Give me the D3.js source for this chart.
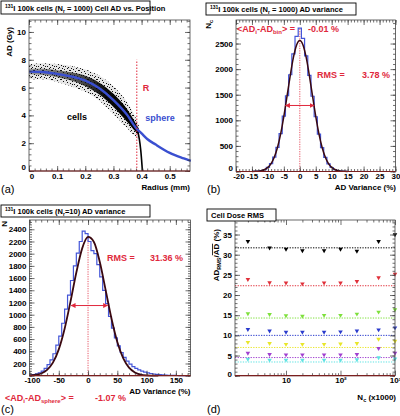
<!DOCTYPE html>
<html><head><meta charset="utf-8">
<script src="https://cdn.jsdelivr.net/npm/d3@7"></script>
<style>
body{margin:0;background:#fff}
svg{display:block}
text{font-family:"Liberation Sans",Arial,Helvetica,sans-serif}
</style>
</head><body>
<svg id="chart" width="400" height="416"></svg>
<script>
// ---------------- DATA ----------------
// (a) Cell AD vs position
const cellR        = [0, 0.05, 0.1, 0.15, 0.2, 0.25, 0.3, 0.35, 0.38, 0.39];
const cellOuterHi  = [7.7, 7.75, 7.7, 7.55, 7.3, 6.85, 6.1, 4.9, 3.8, 3.3];
const cellCoreHi   = [7.35, 7.35, 7.25, 7.1, 6.85, 6.35, 5.55, 4.4, 3.4, 3.05];
const cellCoreLo   = [6.95, 6.9, 6.75, 6.5, 6.1, 5.5, 4.6, 3.5, 2.8, 2.6];
const cellOuterLo  = [6.6, 6.6, 6.4, 6.1, 5.7, 5.05, 4.1, 3.05, 2.45, 2.3];
const cellEdgeR    = [0.385, 0.392, 0.397, 0.400, 0.402, 0.404];
const cellEdgeAD   = [3.0, 2.3, 1.5, 0.8, 0.3, 0];
const sphereR      = [0, 0.05, 0.1, 0.15, 0.2, 0.25, 0.3, 0.35, 0.38, 0.4, 0.42, 0.45, 0.5, 0.55, 0.575];
const sphereAD     = [7.15, 7.12, 6.98, 6.8, 6.5, 5.95, 5.1, 4.0, 3.1, 2.7, 2.3, 1.9, 1.3, 0.9, 0.72];
const radiusR      = 0.383;
const aXTicks = [0, 0.1, 0.2, 0.3, 0.4, 0.5];
const aYTicks = [0, 2, 4, 6, 8, 10];

// (b) AD variance, Nr = 1000
const bHistX = [-15,-14,-13,-12,-11,-10,-9,-8,-7,-6,-5,-4,-3,-2,-1,0,1,2,3,4,5,6,7,8,9,10,11,12,13,14,15];
const bHistN = [1,3,7,16,38,80,155,280,470,740,1080,1480,1890,2300,2640,2800,2600,2260,1880,1470,1070,730,465,275,150,78,38,16,7,3,1];
const bFitX  = [-15,-14,-13,-12,-11,-10,-9,-8,-7,-6,-5,-4,-3,-2,-1,0,1,2,3,4,5,6,7,8,9,10,11,12,13,14,15];
const bFitN  = [1,3,7,17,39,80,155,279,469,736,1077,1471,1875,2229,2473,2560,2473,2229,1875,1471,1077,736,469,279,155,80,39,17,7,3,1];
const bArrow = [-4.5, 4.5, 1290];
const bXTicks = [-20,-15,-10,-5,0,5,10,15,20,25,30];
const bYTicks = [0,500,1000,1500,2000,2500];

// (c) AD variance, Nr = 10
const cHistX = [-97.5,-92.5,-87.5,-82.5,-77.5,-72.5,-67.5,-62.5,-57.5,-52.5,-47.5,-42.5,-37.5,-32.5,-27.5,-22.5,-17.5,-12.5,-7.5,-2.5,2.5,7.5,12.5,17.5,22.5,27.5,32.5,37.5,42.5,47.5,52.5,57.5,62.5,67.5,72.5,77.5,82.5,87.5,92.5,97.5,102.5,107.5,112.5,117.5,122.5,127.5,132.5,137.5,142.5,147.5,152.5,157.5,162.5,167.5,172.5];
const cHistN = [12,20,30,48,75,120,180,260,360,500,650,860,1090,1320,1560,1800,2010,2200,2370,2330,2200,2050,2000,1820,1620,1400,1180,970,780,620,490,380,300,240,190,150,120,95,75,60,46,36,28,21,16,12,9,7,5,4,3,2,2,1,1];
const cFitX  = [-100,-90,-80,-70,-60,-50,-40,-30,-20,-10,0,10,20,30,40,50,60,70,80,90,100,110,120];
const cFitN  = [4,12,36,94,214,432,770,1214,1692,2087,2274,2192,1868,1407,937,552,287,132,54,19,6,2,0.5];
const cArrow = [-29, 33.5, 1150];
const cXTicks = [-100,-50,0,50,100,150];
const cYTicks = [0,200,400,600,800,1000,1200,1400,1600,1800,2000,2200,2400];

// (d) Cell dose RMS
const nCells   = [2,5,10,20,50,100,200,500,1000];
const rmsBlack  = [33.3,31.7,31.4,31.0,31.0,31.4,30.9,33.3,35.0];
const rmsRed    = [23.9,23.1,23.0,22.8,23.0,23.0,23.4,24.3,25.2];
const rmsGreen  = [15.4,15.2,14.9,14.8,15.0,15.0,15.3,15.8,16.4];
const rmsBlue   = [11.5,11.1,10.8,10.8,10.8,10.9,11.1,11.4,11.9];
const rmsYellow = [8.3,8.0,7.8,7.8,7.8,7.9,8.0,9.1,8.6];
const rmsPurple = [5.6,5.3,5.2,5.2,5.2,5.2,5.3,6.8,5.6];
const rmsCyan   = [4.1,3.9,3.9,3.9,3.9,3.9,4.0,4.5,4.2];
const rmsRef    = [31.7,22.3,14.3,10.0,7.0,4.5,3.4];
const dYTicks = [0,5,10,15,20,25,30,35];
const dXTicks = [10,100,1000];
const dXLabels = ["10","10²","10³"];

// ---------------- DRAWING ----------------
const svg = d3.select("#chart");
const RED = "#e0283c";
const BLUE = "#4456d8";
const FIT = "#3a0810";
const defs = svg.append("defs");

function arrowMarker(id){
  defs.append("marker").attr("id",id).attr("viewBox","0 0 10 10").attr("refX",9).attr("refY",5)
    .attr("markerWidth",5).attr("markerHeight",5).attr("orient","auto-start-reverse")
    .append("path").attr("d","M0,0L10,5L0,10z").attr("fill",RED);
}
arrowMarker("arr");

function range(a,b,s){const r=[];for(let v=a;v<=b+1e-9;v+=s)r.push(+v.toFixed(6));return r;}

function drawAxes(g, x, y, xMaj, xMin, yMaj, yMin, xFmt, yFmt){
  const [x0,x1]=x.range(), [y0,y1]=y.range();
  const fs = "8px";
  g.append("g").attr("transform",`translate(0,${y0})`).call(d3.axisBottom(x).tickValues(xMin).tickSize(-2.5).tickFormat(""));
  g.append("g").attr("transform",`translate(0,${y1})`).call(d3.axisTop(x).tickValues(xMin).tickSize(-2.5).tickFormat(""));
  g.append("g").attr("transform",`translate(${x0},0)`).call(d3.axisLeft(y).tickValues(yMin).tickSize(-2.5).tickFormat(""));
  g.append("g").attr("transform",`translate(${x1},0)`).call(d3.axisRight(y).tickValues(yMin).tickSize(-2.5).tickFormat(""));
  const bx = g.append("g").attr("transform",`translate(0,${y0})`).call(d3.axisBottom(x).tickValues(xMaj).tickSize(-5).tickPadding(2).tickFormat(xFmt));
  g.append("g").attr("transform",`translate(0,${y1})`).call(d3.axisTop(x).tickValues(xMaj).tickSize(-5).tickFormat(""));
  const ly = g.append("g").attr("transform",`translate(${x0},0)`).call(d3.axisLeft(y).tickValues(yMaj).tickSize(-5).tickPadding(3).tickFormat(yFmt));
  g.append("g").attr("transform",`translate(${x1},0)`).call(d3.axisRight(y).tickValues(yMaj).tickSize(-5).tickFormat(""));
  g.selectAll(".domain").remove();
  g.selectAll(".tick line").attr("stroke","#333").attr("stroke-width",0.7);
  g.selectAll(".tick text").attr("font-size",fs).attr("font-weight","bold").attr("fill","#000");
  const corner = xMaj.length && Math.abs(x(xMaj[0])-x0)<2;
  ly.selectAll(".tick text").filter(d=>d===yMaj[0]).attr("dy", corner ? "-0.15em" : "0.1em");
  bx.selectAll(".tick text").filter(d=>d===xMaj[0] && corner).attr("dx","0.3em");
  g.append("rect").attr("x",x0).attr("y",y1).attr("width",x1-x0).attr("height",y0-y1)
    .attr("fill","none").attr("stroke","#444").attr("stroke-width",0.8);
  g.append("line").attr("x1",x0).attr("x2",x1).attr("y1",y0).attr("y2",y0).attr("stroke","#7a1f1f").attr("stroke-width",1.2);
  return {bx, ly};
}

function titleBox(x, y, w, h, build){
  svg.append("rect").attr("x",x).attr("y",y).attr("width",w).attr("height",h)
    .attr("fill","#fff").attr("stroke","#000").attr("stroke-width",0.9);
  const t = svg.append("text").attr("x",x+4).attr("y",y+h-3.2).attr("font-size","7.5px").attr("font-weight","bold");
  build(t);
}
function iTitle(t, nr, rest){
  t.append("tspan").attr("font-size","5px").attr("dy",-3).text("131");
  t.append("tspan").attr("dy",3).text("I 100k cells (N");
  t.append("tspan").attr("font-size","5px").attr("dy",2).text("r");
  t.append("tspan").attr("dy",-2).text(nr + rest);
}

function panelLabel(x,y,s){
  svg.append("text").attr("x",x).attr("y",y).attr("font-size","11px").text(s);
}

// ===== Panel (a) =====
{
  const x = d3.scaleLinear().domain([0,0.572]).range([29,190]);
  const y = d3.scaleLinear().domain([0,10.86]).range([171,20]);
  const g = svg.append("g");
  const grad = defs.append("linearGradient").attr("id","cellGrad").attr("x1","0%").attr("x2","100%");
  grad.append("stop").attr("offset","0%").attr("stop-color","#222").attr("stop-opacity",0.4);
  grad.append("stop").attr("offset","45%").attr("stop-color","#111").attr("stop-opacity",0.7);
  grad.append("stop").attr("offset","70%").attr("stop-color","#000").attr("stop-opacity",0.95);
  grad.append("stop").attr("offset","100%").attr("stop-color","#000").attr("stop-opacity",1);
  const pat = defs.append("pattern").attr("id","speck").attr("width",9).attr("height",9).attr("patternUnits","userSpaceOnUse");
  [[0,0],[4,1],[7,2],[2,3],[5,4],[8,5],[1,6],[6,7],[3,8],[4,5],[0,3],[7,7]].forEach(p=>{
    pat.append("rect").attr("x",p[0]).attr("y",p[1]).attr("width",1).attr("height",1).attr("fill","#111");
  });
  const idx = d3.range(cellR.length);
  const areaO = d3.area().x(i=>x(cellR[i])).y0(i=>y(cellOuterLo[i])).y1(i=>y(cellOuterHi[i])).curve(d3.curveMonotoneX);
  const areaC = d3.area().x(i=>x(cellR[i])).y0(i=>y(cellCoreLo[i])).y1(i=>y(cellCoreHi[i])).curve(d3.curveMonotoneX);
  g.append("path").attr("d",areaO(idx)).attr("fill","#000").attr("opacity",0.1);
  g.append("path").attr("d",areaO(idx)).attr("fill","url(#speck)");
  g.append("path").attr("d",areaC(idx)).attr("fill","url(#cellGrad)");
  g.append("path").attr("d",d3.line().x(i=>x(cellEdgeR[i])).y(i=>y(cellEdgeAD[i])).curve(d3.curveMonotoneY)(d3.range(cellEdgeR.length).reverse()))
    .attr("fill","none").attr("stroke","#000").attr("stroke-width",1.6);
  g.append("path").attr("d",d3.line().x(i=>x(sphereR[i])).y(i=>y(sphereAD[i])).curve(d3.curveMonotoneX)(d3.range(sphereR.length)))
    .attr("fill","none").attr("stroke","#3a4fd0").attr("stroke-width",2.4);
  g.append("line").attr("x1",x(radiusR)).attr("x2",x(radiusR)).attr("y1",y(0)).attr("y2",y(8))
    .attr("stroke",RED).attr("stroke-width",1).attr("stroke-dasharray","1.5,1.5");
  g.append("text").attr("x",x(radiusR)+6).attr("y",y(6)+3).attr("fill",RED).attr("font-size","9px").attr("font-weight","bold").text("R");
  g.append("text").attr("x",x(0.135)).attr("y",y(3.9)+3).attr("fill","#000").attr("font-size","9px").attr("font-weight","bold").text("cells");
  g.append("text").attr("x",x(0.413)).attr("y",y(3.8)+3).attr("fill","#3a4fd0").attr("font-size","9px").attr("font-weight","bold").text("sphere");
  drawAxes(g,x,y,aXTicks,range(0,0.56,0.02),aYTicks,range(0,10.8,0.4),d=>d===0?"0":d3.format(".1f")(d),d=>d);
  svg.append("text").attr("transform","translate(12,27) rotate(-90)").attr("text-anchor","end").attr("font-size","8px").attr("font-weight","bold").text("AD (Gy)");
  svg.append("text").attr("x",190).attr("y",190).attr("text-anchor","end").attr("font-size","8px").attr("font-weight","bold").text("Radius (mm)");
  titleBox(1,1,149,13,t=>iTitle(t," = 1000",") Cell AD vs. Position"));
  panelLabel(1,193,"(a)");
}

// ===== Panel (b) =====
{
  const x = d3.scaleLinear().domain([-20,30]).range([236,395.5]);
  const y = d3.scaleLinear().domain([0,2960]).range([171.5,20]);
  const g = svg.append("g");
  g.append("line").attr("x1",x(0)).attr("x2",x(0)).attr("y1",y(0)).attr("y2",y(2800))
    .attr("stroke",RED).attr("stroke-width",0.8).attr("stroke-dasharray","1.2,1.2");
  g.append("path").attr("d",d3.line().x(i=>x(bHistX[i])).y(i=>y(bHistN[i])).curve(d3.curveStep)(d3.range(bHistX.length)))
    .attr("fill","none").attr("stroke",BLUE).attr("stroke-width",1.2);
  g.append("path").attr("d",d3.line().x(i=>x(bFitX[i])).y(i=>y(bFitN[i])).curve(d3.curveMonotoneX)(d3.range(bFitX.length)))
    .attr("fill","none").attr("stroke",FIT).attr("stroke-width",1.5);
  g.append("line").attr("x1",x(bArrow[0])).attr("x2",x(bArrow[1])).attr("y1",y(bArrow[2])).attr("y2",y(bArrow[2]))
    .attr("stroke",RED).attr("stroke-width",1).attr("marker-start","url(#arr)").attr("marker-end","url(#arr)");
  drawAxes(g,x,y,bXTicks,range(-20,30,1),bYTicks,range(0,2900,100),d=>d,d=>d);
  const t1 = svg.append("text").attr("x",237).attr("y",32).attr("fill",RED).attr("font-size","9px").attr("font-weight","bold");
  t1.append("tspan").text("<AD");
  t1.append("tspan").attr("font-size","6px").attr("dy",2).text("i");
  t1.append("tspan").attr("dy",-2).text("-AD");
  t1.append("tspan").attr("font-size","6px").attr("dy",2).text("bin");
  t1.append("tspan").attr("dy",-2).text("> =");
  svg.append("text").attr("x",308).attr("y",32).attr("fill",RED).attr("font-size","9px").attr("font-weight","bold").text("-0.01 %");
  svg.append("text").attr("x",317).attr("y",78).attr("fill",RED).attr("font-size","9px").attr("font-weight","bold").text("RMS =");
  svg.append("text").attr("x",362).attr("y",78).attr("fill",RED).attr("font-size","9px").attr("font-weight","bold").text("3.78 %");
  const yt = svg.append("text").attr("transform","translate(211,20) rotate(-90)").attr("text-anchor","end").attr("font-size","8px").attr("font-weight","bold");
  yt.append("tspan").text("N");
  yt.append("tspan").attr("font-size","5.5px").attr("dy",2).text("c");
  svg.append("text").attr("x",396).attr("y",190).attr("text-anchor","end").attr("font-size","8px").attr("font-weight","bold").text("AD Variance (%)");
  titleBox(206,3,150,12,t=>iTitle(t," = 1000",") AD variance"));
  panelLabel(207,193,"(b)");
}

// ===== Panel (c) =====
{
  const x = d3.scaleLinear().domain([-100,175]).range([29.5,190.5]);
  const y = d3.scaleLinear().domain([0,2552]).range([375.7,220]);
  const g = svg.append("g");
  g.append("line").attr("x1",x(0)).attr("x2",x(0)).attr("y1",y(0)).attr("y2",y(2280))
    .attr("stroke",RED).attr("stroke-width",0.8).attr("stroke-dasharray","1.2,1.2");
  g.append("path").attr("d",d3.line().x(i=>x(cHistX[i])).y(i=>y(cHistN[i])).curve(d3.curveStep)(d3.range(cHistX.length)))
    .attr("fill","none").attr("stroke",BLUE).attr("stroke-width",1.2);
  g.append("path").attr("d",d3.line().x(i=>x(cFitX[i])).y(i=>y(cFitN[i])).curve(d3.curveMonotoneX)(d3.range(cFitX.length)))
    .attr("fill","none").attr("stroke",FIT).attr("stroke-width",1.8);
  g.append("line").attr("x1",x(cArrow[0])).attr("x2",x(cArrow[1])).attr("y1",y(cArrow[2])).attr("y2",y(cArrow[2]))
    .attr("stroke",RED).attr("stroke-width",1).attr("marker-start","url(#arr)").attr("marker-end","url(#arr)");
  drawAxes(g,x,y,cXTicks,range(-100,170,10),cYTicks,range(0,2540,40),d=>d,d=>d);
  svg.append("text").attr("x",107).attr("y",261).attr("fill",RED).attr("font-size","9px").attr("font-weight","bold").text("RMS =");
  svg.append("text").attr("x",150).attr("y",261).attr("fill",RED).attr("font-size","9px").attr("font-weight","bold").text("31.36 %");
  const t1 = svg.append("text").attr("x",5).attr("y",401).attr("fill",RED).attr("font-size","9px").attr("font-weight","bold");
  t1.append("tspan").text("<AD");
  t1.append("tspan").attr("font-size","6px").attr("dy",2).text("i");
  t1.append("tspan").attr("dy",-2).text("-AD");
  t1.append("tspan").attr("font-size","6px").attr("dy",2).text("sphere");
  t1.append("tspan").attr("dy",-2).text("> =");
  svg.append("text").attr("x",95).attr("y",401).attr("fill",RED).attr("font-size","9px").attr("font-weight","bold").text("-1.07 %");
  svg.append("text").attr("transform","translate(7,221) rotate(-90)").attr("text-anchor","end").attr("font-size","8px").attr("font-weight","bold").text("N");
  svg.append("text").attr("x",190.5).attr("y",393.5).attr("text-anchor","end").attr("font-size","8px").attr("font-weight","bold").text("AD Variance (%)");
  titleBox(1,205,149,12,t=>iTitle(t,"=10",") AD variance"));
  panelLabel(1,413,"(c)");
}

// ===== Panel (d) =====
{
  const x = d3.scaleLog().domain([1.16,1000]).range([235,395]);
  const y = d3.scaleLinear().domain([0,38.6]).range([375.7,220]);
  const g = svg.append("g");
  const series = [rmsBlack,rmsRed,rmsGreen,rmsBlue,rmsYellow,rmsPurple,rmsCyan];
  const colors = ["#000000","#e0303a","#7ee03c","#2a3bcc","#e8e62a","#a040d0","#5fe3e3"];
  series.forEach((s,k)=>{
    g.append("line").attr("x1",x(1.16)).attr("x2",x(1000)).attr("y1",y(rmsRef[k])).attr("y2",y(rmsRef[k]))
      .attr("stroke",colors[k]).attr("stroke-width",1).attr("stroke-dasharray","1.3,1.3");
  });
  const tri = d3.symbol().type(d3.symbolTriangle).size(9);
  series.forEach((s,k)=>{
    g.selectAll(null).data(nCells).enter().append("path").attr("d",tri)
      .attr("transform",(d,i)=>`translate(${x(d)},${y(s[i])}) rotate(180)`)
      .attr("fill",colors[k]);
  });
  const minors = [];
  [1,10,100].forEach(dec=>{for(let m=2;m<=9;m++){const v=m*dec; if(v>1.16&&v<1000) minors.push(v);}});
  drawAxes(g,x,y,dXTicks,minors,dYTicks,range(0,38,1),(d,i)=>dXLabels[dXTicks.indexOf(d)],d=>d);
  const yt = svg.append("text").attr("transform","translate(219,229) rotate(-90)").attr("text-anchor","end").attr("font-size","8px").attr("font-weight","bold");
  yt.append("tspan").text("AD");
  yt.append("tspan").attr("font-size","5.5px").attr("dy",2).text("RMS");
  yt.append("tspan").attr("dy",-2).text("/");
  yt.append("tspan").attr("text-decoration","overline").text("AD");
  yt.append("tspan").text(" (%)");
  const xt = svg.append("text").attr("x",396).attr("y",400).attr("text-anchor","end").attr("font-size","8px").attr("font-weight","bold");
  xt.append("tspan").text("N");
  xt.append("tspan").attr("font-size","5.5px").attr("dy",2).text("c");
  xt.append("tspan").attr("dy",-2).text(" (x1000)");
  titleBox(207,209,69,12,t=>t.text("Cell Dose RMS"));
  panelLabel(207,413,"(d)");
}
</script>
</body></html>
